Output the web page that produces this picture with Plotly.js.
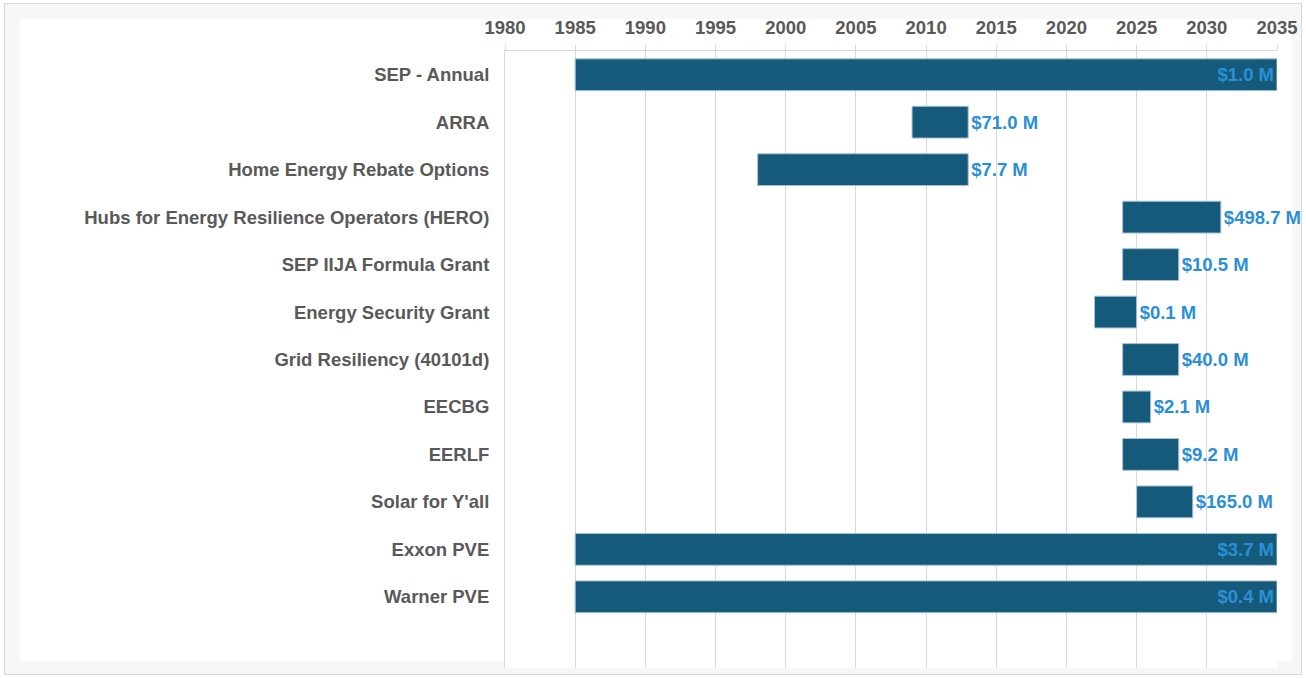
<!DOCTYPE html>
<html>
<head>
<meta charset="utf-8">
<script src="https://cdn.plot.ly/plotly-3.0.1.min.js"></script>
<style>
  html, body { margin: 0; padding: 0; background: #ffffff; }
  #frame { position: absolute; left: 4px; top: 3px; width: 1296px; height: 670px;
           border: 1px solid #d9d9d9; background: #f7f7f7; }
  #inner { position: absolute; left: 20px; top: 19px; width: 1272px; height: 642px; background: #ffffff; }
  #chart { position: absolute; left: 0; top: 0; width: 1306px; height: 678px; }
</style>
</head>
<body>
<div id="frame"></div>
<div id="inner"></div>
<div id="chart"></div>
<script>
const programs = [
  "SEP - Annual",
  "ARRA",
  "Home Energy Rebate Options",
  "Hubs for Energy Resilience Operators (HERO)",
  "SEP IIJA Formula Grant",
  "Energy Security Grant",
  "Grid Resiliency (40101d)",
  "EECBG",
  "EERLF",
  "Solar for Y'all",
  "Exxon PVE",
  "Warner PVE"
];
const startYears = [1985, 2009, 1998, 2024, 2024, 2022, 2024, 2024, 2024, 2025, 1985, 1985];
const endYears   = [2035, 2013, 2013, 2031, 2028, 2025, 2028, 2026, 2028, 2029, 2035, 2035];
const amountLabels = ["$1.0 M", "$71.0 M", "$7.7 M", "$498.7 M", "$10.5 M", "$0.1 M",
                      "$40.0 M", "$2.1 M", "$9.2 M", "$165.0 M", "$3.7 M", "$0.4 M"];
const xTicks = [1980, 1985, 1990, 1995, 2000, 2005, 2010, 2015, 2020, 2025, 2030, 2035];

const durations = startYears.map((s, i) => endYears[i] - s);
const positions = startYears.map((s, i) => (s <= 1985 && endYears[i] >= 2035) ? "inside" : "outside");

const FONT = "Liberation Sans, Arial, sans-serif";
const labelFont = { family: FONT, size: 18.5, color: "#2b8fd6", weight: "bold" };

const trace = {
  type: "bar",
  orientation: "h",
  y: programs,
  x: durations,
  base: startYears,
  width: 0.67,
  marker: { color: "#165a7b", line: { color: "#a8c3d3", width: 1 } },
  text: amountLabels,
  textposition: positions,
  insidetextanchor: "end",
  constraintext: "none",
  cliponaxis: false,
  textfont: labelFont,
  insidetextfont: labelFont,
  outsidetextfont: labelFont,
  hoverinfo: "skip"
};

const layout = {
  width: 1306, height: 678,
  margin: { l: 505, r: 29, t: 51, b: 10, pad: 0 },
  paper_bgcolor: "rgba(0,0,0,0)",
  plot_bgcolor: "#ffffff",
  showlegend: false,
  font: { family: FONT, color: "#595959" },
  xaxis: {
    side: "top",
    range: [1980, 2035],
    tickvals: xTicks,
    ticktext: xTicks.map(String),
    tickfont: { size: 18.5, color: "#595959", weight: "bold" },
    ticklabelstandoff: 4,
    showgrid: true,
    gridcolor: "#d9d9d9",
    gridwidth: 1,
    showline: true,
    linecolor: "#d9d9d9",
    ticks: "outside",
    ticklen: 5,
    tickcolor: "#d9d9d9",
    zeroline: false,
    fixedrange: true
  },
  yaxis: {
    type: "category",
    categoryorder: "array",
    categoryarray: programs,
    range: [12.5, -0.5],
    tickfont: { size: 18.5, color: "#595959", weight: "bold" },
    ticks: "",
    ticklabelstandoff: 11,
    showgrid: false,
    showline: true,
    linecolor: "#d9d9d9",
    linewidth: 1,
    zeroline: false,
    fixedrange: true
  },
  bargap: 0.33
};

Plotly.newPlot("chart", [trace], layout, { displayModeBar: false, staticPlot: true });
</script>
</body>
</html>
